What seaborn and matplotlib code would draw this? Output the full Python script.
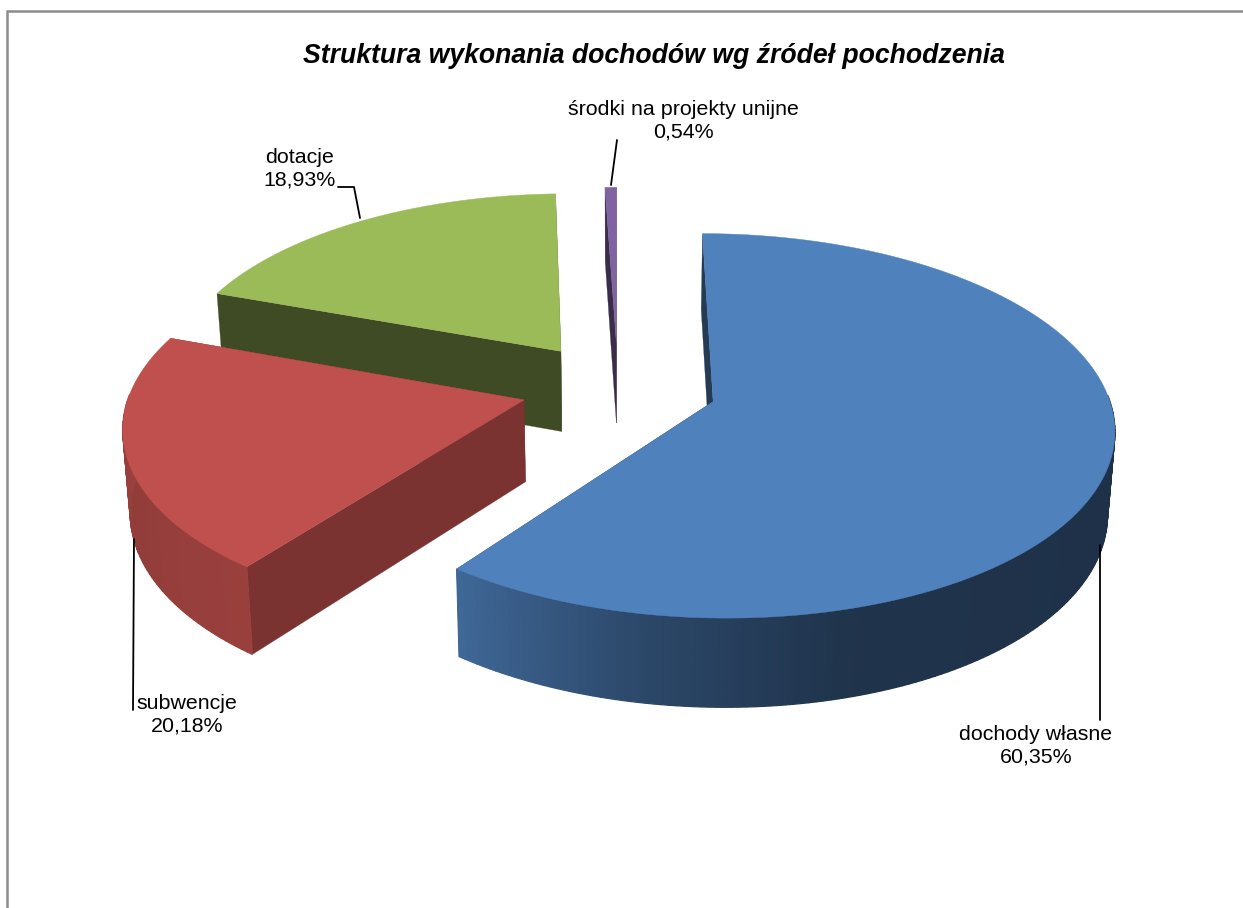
import numpy as np
import matplotlib
matplotlib.use("Agg")
import matplotlib.pyplot as plt
import seaborn as sns

# ---- data ----
title = "Struktura wykonania dochodów wg źródeł pochodzenia"
categories = ["dochody własne", "subwencje", "dotacje", "środki na projekty unijne"]
values = [60.35, 20.18, 18.93, 0.54]
top_colors = ["#4F81BD", "#C0504D", "#9BBB59", "#8064A2"]

# ---- style / geometry of the pseudo-3D view (pixels) ----
sns.set_theme(style="white")
plt.rcParams["font.family"] = ["Liberation Sans", "DejaVu Sans"]
W, H = 1243, 908
CX, CY, RX, RY, PERSP = 618, 387, 393, 185.5, 0.125
EXPLODE_X = [0.253, 0.247, 0.253, 0.253]
EXPLODE_Y, DEPTH, DEPTH_PERSP, SHRINK = 0.244, 81.5, 0.08, 0.985
side_shade = [0.45, 0.64, 0.40, 0.45]
rim_theta = [0, 120, 165, 190, 217, 250, 290, 360]
rim_shade = [0.38, 0.38, 0.40, 0.55, 0.80, 0.76, 0.85, 0.85]
label_pos = [(1036, 746), (187, 715), (300, 169), (683, 121)]
leaders = [
    [(1100, 545), (1100, 720)],
    [(134, 539), (133, 710)],
    [(338, 187), (354, 187), (360, 218)],
    [(617, 140), (611, 185)],
]


def project(x, y, z=0.0):
    w = 1 + PERSP * y
    sx = CX + RX * x / w
    sy = CY - RY * y / w
    if z:
        sx = CX + (sx - CX) * SHRINK
        sy = sy + DEPTH / (1 + DEPTH_PERSP * y)
    return sx, sy


def shade(color, k):
    return tuple(np.array(matplotlib.colors.to_rgb(color)) * k)


fig = plt.figure(figsize=(W / 100, H / 100), dpi=100)
ax = fig.add_axes([0, 0, 1, 1])
ax.set_xlim(0, W)
ax.set_ylim(H, 0)
ax.axis("off")

ax.plot([W, 7, 7], [11, 11, H], color="#8c8c8c", lw=1.8, solid_joinstyle="miter")

fractions = np.array(values) / sum(values)
ends = np.cumsum(fractions) * 360
starts = ends - fractions * 360

# painter's order: back slices first
for i in [3, 2, 1, 0]:
    a0, a1 = starts[i], ends[i]
    mid = np.radians((a0 + a1) / 2)
    ox, oy = EXPLODE_X[i] * np.sin(mid), EXPLODE_Y * np.cos(mid)
    th = np.radians(np.linspace(a0, a1, max(int(a1 - a0), 2) + 1))
    rx_, ry_ = ox + np.sin(th), oy + np.cos(th)
    c = top_colors[i]
    # radial side walls
    for (ex, ey) in [(rx_[0], ry_[0]), (rx_[-1], ry_[-1])]:
        quad = [project(ox, oy), project(ex, ey), project(ex, ey, 1), project(ox, oy, 1)]
        ax.fill(*zip(*quad), color=shade(c, side_shade[i]), lw=0.2, zorder=2)
    # outer rim, shaded along the angle; only the part that faces the viewer
    for j in range(len(th) - 1):
        t_mid = (th[j] + th[j + 1]) / 2
        if np.cos(t_mid) > 0.03:
            continue
        quad = [project(rx_[j], ry_[j]), project(rx_[j + 1], ry_[j + 1]),
                project(rx_[j + 1], ry_[j + 1], 1), project(rx_[j], ry_[j], 1)]
        k = np.interp(np.degrees(t_mid), rim_theta, rim_shade)
        ax.fill(*zip(*quad), color=shade(c, k), lw=0.9, zorder=2)
    # top face
    top = [project(ox, oy)] + [project(a, b) for a, b in zip(rx_, ry_)]
    ax.fill(*zip(*top), color=c, lw=0.3, zorder=2)

for i, (cat, val) in enumerate(zip(categories, values)):
    ax.plot(*zip(*leaders[i]), color="black", lw=1.3, zorder=3)
    txt = f"{cat}\n{val:.2f}%".replace(".", ",")
    ax.text(*label_pos[i], txt, ha="center", va="center", fontsize=15.4,
            color="black", linespacing=1.25, zorder=4)

ax.text(654, 56, title, ha="center", va="center", fontsize=19.2,
        fontweight="bold", fontstyle="italic", color="black")

fig.savefig("out.png", dpi=100)
